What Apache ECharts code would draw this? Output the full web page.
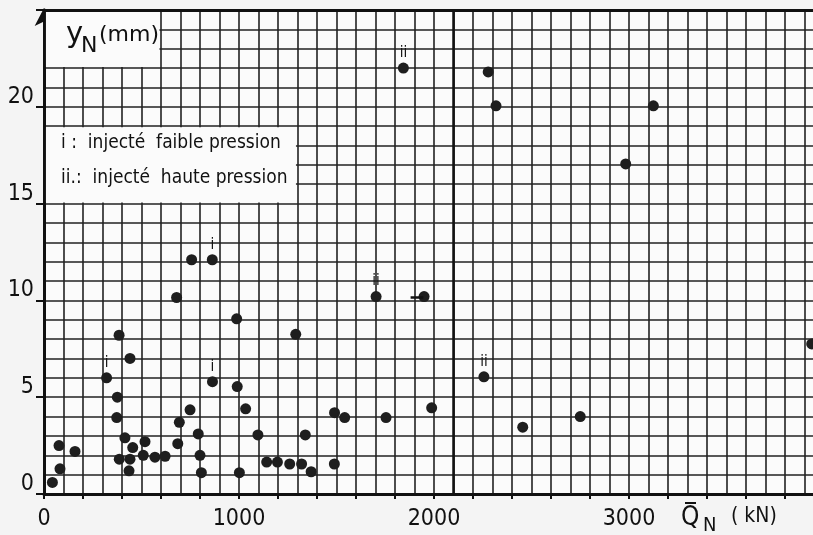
<!DOCTYPE html>
<html>
<head>
<meta charset="utf-8">
<script src="https://cdn.jsdelivr.net/npm/echarts@6/dist/echarts.min.js"></script>
<style>
html,body{margin:0;padding:0;background:#f4f4f4}
#chart{width:813px;height:535px}
</style>
</head>
<body>
<div id="chart"></div>
<script>
var chargeQ = [43, 82, 77, 159, 321, 385, 441, 376, 373, 415, 455, 386, 441, 436, 518, 509, 569, 621,
    680, 757, 863, 694, 686, 749, 791, 800, 807, 864, 988, 991, 1034, 1002, 1097, 1142, 1197, 1260,
    1321, 1370, 1291, 1340, 1489, 1490, 1542, 1703, 1754, 1949, 1988, 2256, 2455, 2750, 3937,
    1843, 2278, 2318, 3125, 2983];
var deplY = [0.6, 1.3, 2.5, 2.2, 6.0, 8.2, 7.0, 5.0, 3.95, 2.9, 2.4, 1.8, 1.8, 1.2, 2.7, 2.0, 1.9, 1.95,
    10.15, 12.1, 12.1, 3.7, 2.6, 4.35, 3.1, 2.0, 1.1, 5.8, 9.05, 5.55, 4.4, 1.1, 3.05, 1.65, 1.65, 1.55,
    1.55, 1.15, 8.25, 3.05, 1.55, 4.2, 3.95, 10.2, 3.95, 10.2, 4.45, 6.05, 3.45, 4.0, 7.75,
    22.0, 21.8, 20.05, 20.05, 17.05];
// i : injecte faible pression, ii : injecte haute pression
var marque = ['', '', '', '', 'i', '', '', '', '', '', '', '', '', '', '', '', '', '',
    '', '', 'i', '', '', '', '', '', '', 'i', '', '', '', '', '', '', '', '',
    '', '', '', '', '', '', '', 'ii', '', '', '', 'ii', '', '', '',
    'ii', '', '', '', ''];
var tiret = [[1880, 10.15], [1945, 10.15]];
var xTicks = [0, 1000, 2000, 3000];
var yTicks = [0, 5, 10, 15, 20];

var points = chargeQ.map(function (q, i) { return [q, deplY[i]]; });

var trait = { color: '#222', width: 1.6 };
var police = '"DejaVu Sans Condensed", "DejaVu Sans", sans-serif';

var myChart = echarts.init(document.getElementById('chart'));

myChart.setOption({
    backgroundColor: '#f4f4f4',
    animation: false,
    grid: {
        left: 44,
        right: -11,
        top: 10,
        bottom: 41,
        outerBoundsMode: 'none',
        containLabel: false,
        show: true,
        backgroundColor: '#fbfbfb',
        borderWidth: 0
    },
    xAxis: {
        type: 'value',
        min: 0,
        max: 4000,
        interval: 200,
        axisLine: { show: true, onZero: false, lineStyle: { color: '#111', width: 3 } },
        axisTick: { show: true, length: 5, lineStyle: { color: '#111', width: 2 } },
        axisLabel: {
            margin: 14,
            fontSize: 23,
            fontFamily: police,
            color: '#111',
            formatter: function (v) { return xTicks.indexOf(v) >= 0 ? String(v) : ''; }
        },
        splitLine: { show: true, lineStyle: trait },
        minorTick: { show: false, splitNumber: 2 },
        minorSplitLine: { show: true, lineStyle: trait }
    },
    yAxis: {
        type: 'value',
        min: 0,
        max: 25,
        interval: 5,
        axisLine: {
            show: true, onZero: false,
            lineStyle: { color: '#111', width: 3 },
            symbol: ['none', 'arrow'],
            symbolSize: [14, 18],
            symbolOffset: [0, 2]
        },
        axisTick: { show: true, length: 8, lineStyle: { color: '#111', width: 2 } },
        axisLabel: {
            margin: 10,
            fontSize: 23,
            fontFamily: police,
            color: '#111',
            verticalAlign: 'bottom',
            lineHeight: 20,
            formatter: function (v) { return yTicks.indexOf(v) >= 0 ? String(v) : ''; }
        },
        splitLine: { show: true, lineStyle: trait },
        minorTick: { show: false, splitNumber: 5 },
        minorSplitLine: { show: true, lineStyle: trait }
    },
    series: [
        {
            name: 'tiret',
            type: 'line',
            data: tiret,
            symbol: 'none',
            lineStyle: { color: '#111', width: 2.5 },
            markArea: {
                silent: true,
                itemStyle: { color: '#fbfbfb', borderWidth: 0 },
                data: [
                    [{ coord: [10, 22.06] }, { coord: [592, 25] }],
                    [{ coord: [10, 15.06] }, { coord: [1292, 18.94] }]
                ]
            },
            markLine: {
                silent: true,
                symbol: 'none',
                label: { show: false },
                lineStyle: { color: '#111', type: 'solid', width: 3 },
                data: [{ yAxis: 25 }, { xAxis: 2100, lineStyle: { width: 2.5 } }]
            }
        },
        {
            name: 'essais',
            type: 'scatter',
            data: points,
            symbolSize: 11,
            itemStyle: { color: '#1e1e1e', opacity: 1 },
            label: {
                show: true,
                position: 'top',
                distance: 2,
                fontSize: 15,
                fontFamily: police,
                color: '#111',
                formatter: function (p) { return marque[p.dataIndex]; }
            }
        }
    ],
    graphic: [
        { type: 'text', z: 20, left: 66, top: 20, style: { text: 'y', fontSize: 29, fontFamily: '"DejaVu Sans", sans-serif', fill: '#111' } },
        { type: 'text', z: 20, left: 81, top: 35, style: { text: 'N', fontSize: 22, fontFamily: '"DejaVu Sans", sans-serif', fill: '#111' } },
        { type: 'text', z: 20, left: 99, top: 24, style: { text: '(mm)', fontSize: 22, fontFamily: '"DejaVu Sans", sans-serif', fill: '#111' } },
        { type: 'text', z: 20, left: 61, top: 134, style: { text: 'i :  injecté  faible pression', fontSize: 19, fontFamily: police, fill: '#111' } },
        { type: 'text', z: 20, left: 61, top: 169, style: { text: 'ii.:  injecté  haute pression', fontSize: 19, fontFamily: police, fill: '#111' } },
        { type: 'text', z: 20, left: 681, top: 505, style: { text: 'Q', fontSize: 26, fontFamily: police, fill: '#111' } },
        { type: 'line', z: 20, shape: { x1: 685, y1: 503, x2: 696, y2: 503 }, style: { stroke: '#111', lineWidth: 2 } },
        { type: 'text', z: 20, left: 703, top: 516, style: { text: 'N', fontSize: 20, fontFamily: police, fill: '#111' } },
        { type: 'text', z: 20, left: 731, top: 506, style: { text: '( kN)', fontSize: 21, fontFamily: police, fill: '#111' } }
    ]
});
</script>
</body>
</html>
